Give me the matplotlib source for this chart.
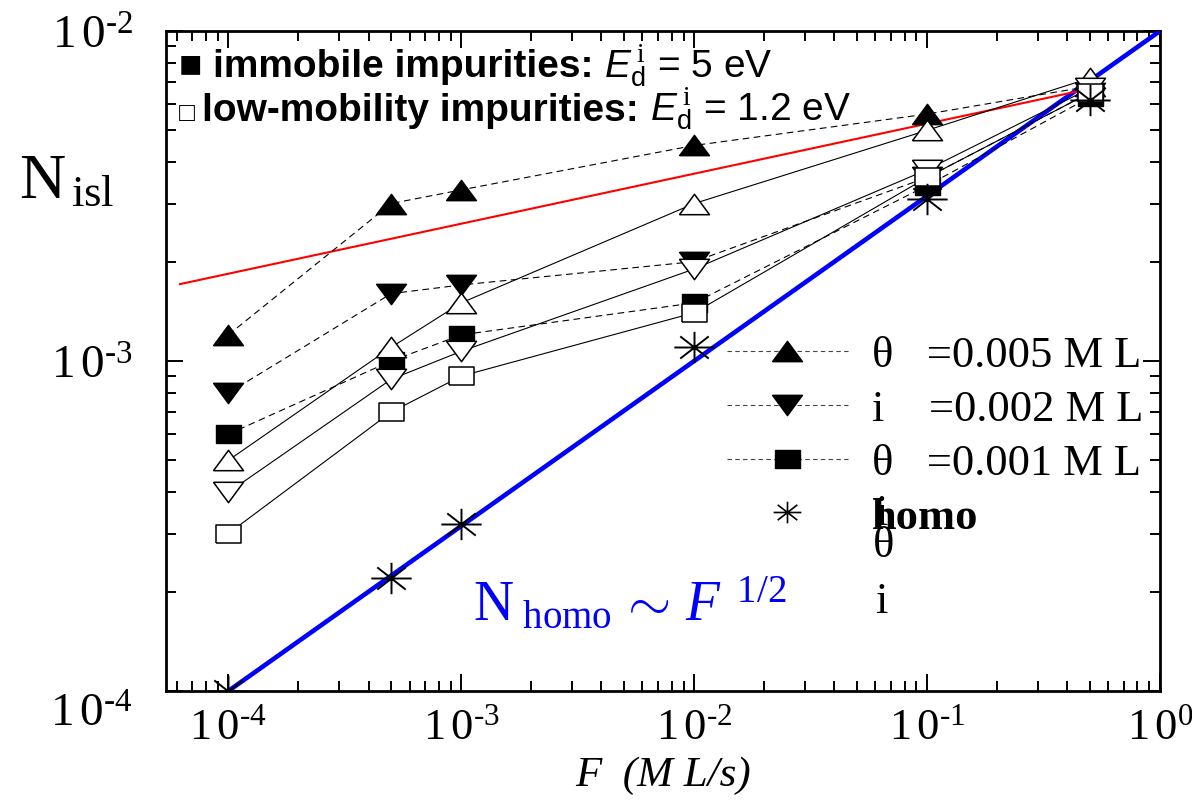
import numpy as np
import matplotlib
matplotlib.use("Agg")
import matplotlib.pyplot as plt
import matplotlib.transforms as mtransforms
from matplotlib.lines import Line2D
from matplotlib.path import Path
from matplotlib.ticker import LogLocator, NullFormatter, FuncFormatter
from matplotlib.offsetbox import TextArea, HPacker, VPacker, AnnotationBbox

plt.rcParams['font.family'] = ['Liberation Serif', 'DejaVu Serif']
plt.rcParams['mathtext.fontset'] = 'custom'
plt.rcParams['mathtext.rm'] = 'Liberation Serif'
plt.rcParams['mathtext.it'] = 'Liberation Serif:italic'
plt.rcParams['mathtext.sf'] = 'Liberation Sans'
plt.rcParams['mathtext.cal'] = 'Liberation Sans:italic'

# deposition flux F (ML/s)
F = [1e-4, 5e-4, 1e-3, 1e-2, 1e-1, 0.5]

# island density, immobile impurities (filled symbols)
imm_005 = [1.2e-3, 3.0e-3, 3.3e-3, 4.5e-3, 5.6e-3, 6.8e-3]
imm_002 = [8.0e-4, 1.6e-3, 1.7e-3, 2.0e-3, 3.6e-3, 6.5e-3]
imm_001 = [6.0e-4, 1.0e-3, 1.2e-3, 1.5e-3, 3.4e-3, 6.3e-3]
# low-mobility impurities (open symbols)
low_005 = [5.0e-4, 1.1e-3, 1.5e-3, 3.0e-3, 5.0e-3, 7.2e-3]
low_002 = [4.0e-4, 8.8e-4, 1.07e-3, 1.9e-3, 3.8e-3, 6.7e-3]
low_001 = [3.0e-4, 7.0e-4, 9.0e-4, 1.4e-3, 3.6e-3, 6.5e-3]
# homogeneous nucleation
homo = [1.0e-4, 2.2e-4, 3.2e-4, 1.1e-3, 3.1e-3, 6.2e-3]

# guide lines
blue_F = [1e-4, 1.0]
blue_N = [1e-4, 1e-2]
red_F = [6.2e-5, 0.56]
red_N = [1.71e-3, 6.8e-3]

leg_labels = ["\u03b8   =0.005 M L", "i    =0.002 M L", "\u03b8   =0.001 M L", "homo"]

# markers (wider than tall, like the original)
tri_up = [(-1, -0.68), (1, -0.68), (0, 0.68), (-1, -0.68)]
tri_dn = [(-1, 0.68), (1, 0.68), (0, -0.68), (-1, 0.68)]
sq = [(-1, -0.75), (1, -0.75), (1, 0.75), (-1, 0.75), (-1, -0.75)]
d = 0.707
star = Path([(-1, 0), (1, 0), (0, -0.78), (0, 0.78),
             (-d, -d * 0.78), (d, d * 0.78), (-d, d * 0.78), (d, -d * 0.78)],
            [Path.MOVETO, Path.LINETO] * 4)

fig = plt.figure(figsize=(11.92, 8.04), dpi=100)
ax = fig.add_axes([166 / 1192, 1 - 692 / 804, (1160 - 166) / 1192, (692 - 32) / 804])

dash = dict(ls=(0, (6, 4)), lw=0.8, color='k')
solid = dict(ls='-', lw=0.8, color='k')

ax.plot(blue_F, blue_N, color='#0000ff', lw=3.3, zorder=3)
ax.plot(red_F, red_N, color='#ff0000', lw=1.5, zorder=3)

ax.plot(F, imm_005, marker=tri_up, ms=21.6, mfc='k', mec='k', zorder=4, **dash)
ax.plot(F, imm_002, marker=tri_dn, ms=21.6, mfc='k', mec='k', zorder=4, **dash)
ax.plot(F, imm_001, marker=sq, ms=18, mfc='k', mec='k', zorder=4, **dash)
ax.plot(F, low_005, marker=tri_up, ms=21.6, mfc='w', mec='k', mew=1.1, zorder=4, **solid)
ax.plot(F, low_002, marker=tri_dn, ms=21.6, mfc='w', mec='k', mew=1.1, zorder=4, **solid)
ax.plot(F, low_001, marker=sq, ms=18, mfc='w', mec='k', mew=1.1, zorder=4, **solid)
ax.plot(F, homo, ls='none', marker=star, ms=29, mec='k', mew=1.4, zorder=5)

ax.set_xscale('log')
ax.set_yscale('log')
ax.set_xlim(5.4e-5, 1.0)
ax.set_ylim(1e-4, 1e-2)

def pow10(v, pos):
    e = int(round(np.log10(v)))
    return r"$\mathrm{1\,0}^{\text{%d}}$" % e

ax.xaxis.set_major_locator(LogLocator(base=10, numticks=10))
ax.yaxis.set_major_locator(LogLocator(base=10, numticks=10))
ax.xaxis.set_minor_locator(LogLocator(base=10, subs=np.arange(2, 10), numticks=20))
ax.yaxis.set_minor_locator(LogLocator(base=10, subs=np.arange(2, 10), numticks=20))
ax.xaxis.set_major_formatter(FuncFormatter(pow10))
ax.yaxis.set_major_formatter(FuncFormatter(pow10))
ax.xaxis.set_minor_formatter(NullFormatter())
ax.yaxis.set_minor_formatter(NullFormatter())
ax.tick_params(which='both', direction='in', top=True, right=True, width=1.4)
ax.tick_params(which='major', length=12)
ax.tick_params(axis='y', which='major', pad=24, labelsize=34)
ax.tick_params(axis='x', which='major', pad=12, labelsize=32)
ax.tick_params(which='minor', length=7)
for s in ax.spines.values():
    s.set_linewidth(2)

ax.set_xlabel("F  (M L/s)", fontstyle='italic', fontsize=31, labelpad=6)
fig.text(0.056, 0.772, r"$\mathrm{N}_{\,\mathrm{isl}}$", fontsize=46, ha='center', va='center')

ax.text(0.309, 0.109, r"$\mathrm{N}_{\mathrm{\ homo}}\,{\sim}\,F^{\ \,\mathrm{1/2}}$",
        color='#0000ff', fontsize=40, transform=ax.transAxes, va='baseline')

# header text
sans = ['Liberation Sans', 'DejaVu Sans']
bold = dict(family=sans, weight='bold', size=28)
reg = dict(family=sans, size=28)
row1 = HPacker(children=[TextArea("\u25a0 ", textprops=bold),
                         TextArea("immobile impurities: ", textprops=bold),
                         TextArea(r"$\mathcal{E}_{\mathsf{d}}^{\ \mathrm{i}}$ = 5 eV", textprops=reg)],
               align='baseline', pad=0, sep=0)
row2 = HPacker(children=[TextArea("\u25a1 ", textprops=dict(family=sans, size=19)),
                         TextArea("low-mobility impurities: ", textprops=bold),
                         TextArea(r"$\mathcal{E}_{\mathsf{d}}^{\ \mathrm{i}}$ = 1.2 eV", textprops=reg)],
               align='baseline', pad=0, sep=0)
head = VPacker(children=[row1, row2], align='left', pad=0, sep=-2)
ab = AnnotationBbox(head, (0.013, 0.985), xycoords='axes fraction', box_alignment=(0, 1),
                    frameon=False, pad=0)
ax.add_artist(ab)

# legend
leg_dash = dict(ls=(0, (4, 3)), lw=0.8, color='#444444')
handles = [Line2D([], [], marker=tri_up, ms=21.6, mfc='k', mec='k', **leg_dash),
           Line2D([], [], marker=tri_dn, ms=21.6, mfc='k', mec='k', **leg_dash),
           Line2D([], [], marker=sq, ms=18, mfc='k', mec='k', **leg_dash),
           Line2D([], [], ls='none', marker=star, ms=20, mec='k', mew=1.2)]
leg = ax.legend(handles, leg_labels, loc='upper left', bbox_to_anchor=(0.564, 0.539),
                frameon=False, prop={'family': 'Liberation Serif', 'size': 32},
                handlelength=2.72, handletextpad=0.56, labelspacing=0.31,
                borderpad=0, borderaxespad=0)
leg.get_texts()[3].set_fontweight('bold')

# stray symbols of the original legend
ax.text(0.713, 0.253, "i", fontsize=32, transform=ax.transAxes, va='baseline')
ax.text(0.711, 0.2045, "\u03b8", fontsize=32, transform=ax.transAxes, va='baseline')
ax.text(0.713, 0.12, "i", fontsize=32, transform=ax.transAxes, va='baseline')

# the lowest y label sits a bit below its tick in the original
fig.canvas.draw()
for t in ax.yaxis.get_major_ticks():
    if np.isclose(t.get_loc(), 1e-4):
        t.label1.set_transform(t.label1.get_transform() +
                               mtransforms.ScaledTranslation(0, -18 / 100, fig.dpi_scale_trans))

fig.savefig("out.png", dpi=100)
